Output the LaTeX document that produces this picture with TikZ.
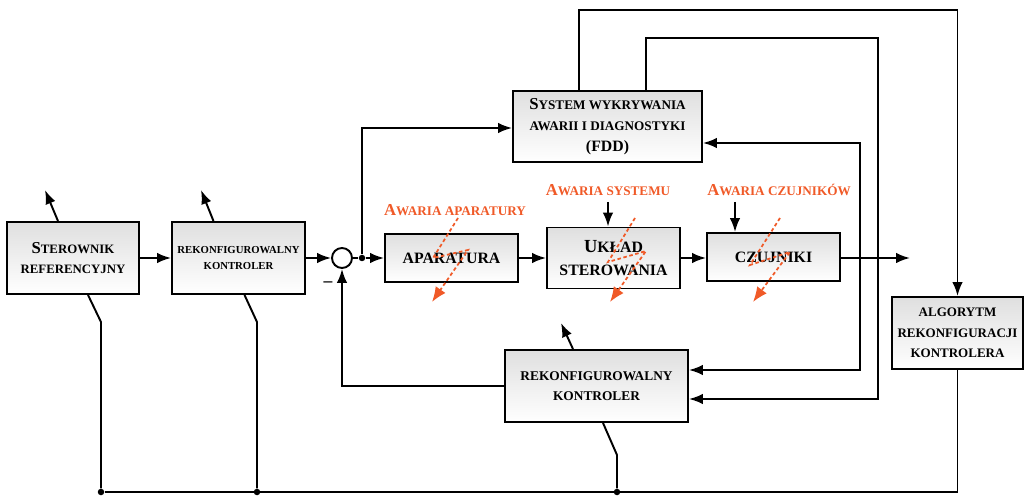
\documentclass[tikz,border=0pt]{standalone}
\usepackage{fontspec}
\setmainfont{Liberation Serif}
\usetikzlibrary{arrows.meta,calc}
\definecolor{faultred}{RGB}{240,90,40}
\newcommand{\capfirst}[1]{{\fontsize{9.5}{9.5}\selectfont#1}}
\newcommand{\fsize}[2]{\fontsize{#1}{#2}\selectfont\bfseries}

\tikzset{
  blok/.style={draw, line width=1.1pt, top color=gray!25, bottom color=white,
    align=center, inner sep=0pt},
  sumator/.style={draw, line width=1.1pt, circle, minimum size=0.4cm, inner sep=0pt, fill=white},
  wezel/.style={circle, fill=black, inner sep=0pt, minimum size=0.13cm},
  awaria/.style={text=faultred, font=\fsize{7.5}{9}},
  piorun/.style={faultred, line width=1pt, dash pattern=on 2pt off 1.5pt,
    -{Latex[length=3mm,width=2.4mm]}},
  polacz/.style={line width=1.1pt},
}

\begin{document}
\begin{tikzpicture}[x=0.02cm, y=-0.02cm, >={Latex[length=2.8mm,width=2.1mm]}]
  \useasboundingbox (0,0) rectangle (1024,496);

  % bloki
  \node[blok, minimum width=2.64cm, minimum height=1.44cm, font=\fsize{7.3}{11.4}]
    (ster) at (73,258) {\capfirst{S}TEROWNIK\\REFERENCYJNY};
  \node[blok, minimum width=2.66cm, minimum height=1.44cm, font=\fsize{6.1}{9}]
    (rk1) at (238.5,258) {REKONFIGUROWALNY\\KONTROLER};
  \node[sumator] (sum) at (342,258) {};
  \node[wezel] (j1) at (362,258) {};
  \node[blok, minimum width=2.66cm, minimum height=0.96cm, font=\fsize{9}{11}]
    (apar) at (451.5,258) {APARATURA};
  \node[blok, minimum width=2.66cm, minimum height=1.22cm, font=\fsize{9}{13}]
    (uklad) at (613.5,258) {{\fontsize{10.5}{10.5}\selectfont U}KŁAD\\STEROWANIA};
  \node[blok, minimum width=2.66cm, minimum height=0.96cm, font=\fsize{9}{11}]
    (czuj) at (773.5,257) {CZUJNIKI};
  \node[blok, minimum width=3.78cm, minimum height=1.42cm, font=\fsize{7.5}{12}]
    (fdd) at (607.5,126.5) {\capfirst{S}YSTEM WYKRYWANIA\\AWARII I DIAGNOSTYKI\\{\fontsize{9}{9}\selectfont (FDD)}};
  \node[blok, minimum width=3.66cm, minimum height=1.44cm, font=\fsize{7.6}{11.4}]
    (rk2) at (596.5,386) {REKONFIGUROWALNY\\KONTROLER};
  \node[blok, minimum width=2.62cm, minimum height=1.44cm, font=\fsize{7.4}{11.7}]
    (alg) at (957.5,333) {ALGORYTM\\REKONFIGURACJI\\KONTROLERA};

  % etykiety awarii
  \node[awaria] (fa) at (455,210) {\capfirst{A}WARIA APARATURY};
  \node[awaria] (fs) at (608,190) {\capfirst{A}WARIA SYSTEMU};
  \node[awaria] (fc) at (779,190) {\capfirst{A}WARIA CZUJNIKÓW};
  \node[font=\bfseries] (minus) at (328,284) {--};

  \coordinate (cz) at (735,0);
  \coordinate (out) at (910,258);
  \coordinate (top1) at (579,10);
  \coordinate (top2) at (646,38);

  % glowny tor
  \draw[polacz,->] (ster) -- (rk1);
  \draw[polacz,->] (rk1) -- (sum);
  \draw[polacz] (sum) -- (j1);
  \draw[polacz,->] (j1) -- (apar);
  \draw[polacz,->] (apar) -- (uklad);
  \draw[polacz,->] (uklad.east) -- (czuj.west |- uklad.east);
  \draw[polacz,->] (czuj.east |- out) -- (out);
  \draw[polacz,->] (j1) |- (fdd.west |- 0,128);
  \draw[polacz,->] (rk2.west) -| (sum.south);

  % od FDD
  \draw[polacz,->] (fdd.north -| top1) |- (957.5,10) -- (alg.north);
  \draw[polacz,->] (fdd.north -| top2) |- (878,38) |- (rk2.east |- 0,399);
  \draw[polacz,<->] (fdd.east |- 0,143) -| (860,370) -- (rk2.east |- 0,370);

  % awarie
  \draw[polacz,->] (fs.south) -- (fs.south |- uklad.north);
  \draw[polacz,->] (fc.south -| cz) -- (czuj.north -| cz);
  \draw[piorun] (458,218) -- (433,258) -- (468,250) -- (432,302);
  \draw[piorun] (635,218) -- (608,262) -- (646,251) -- (610,302);
  \draw[piorun] (780,218) -- (750,265) -- (790,252) -- (753,302);

  % wyjscia w gore
  \draw[polacz,->] ($(ster.north)+(-15,0)$) -- (45,190);
  \draw[polacz,->] ($(rk1.north)+(-25,0)$) -- (201,190);
  \draw[polacz,->] ($(rk2.north)+(-23.5,0)$) -- (561,323);

  % szyna dolna
  \node[wezel] (b1) at (101,492) {};
  \node[wezel] (b2) at (257,492) {};
  \node[wezel] (b3) at (617,492) {};
  \draw[polacz] ($(ster.south)+(15,0)$) -- (101,322) -- (b1);
  \draw[polacz] ($(rk1.south)+(6,0)$) -- (257,322) -- (b2);
  \draw[polacz] ($(rk2.south)+(6.5,0)$) -- (617,455) -- (b3);
  \draw[polacz] (alg.south) |- (b1);
\end{tikzpicture}
\end{document}
